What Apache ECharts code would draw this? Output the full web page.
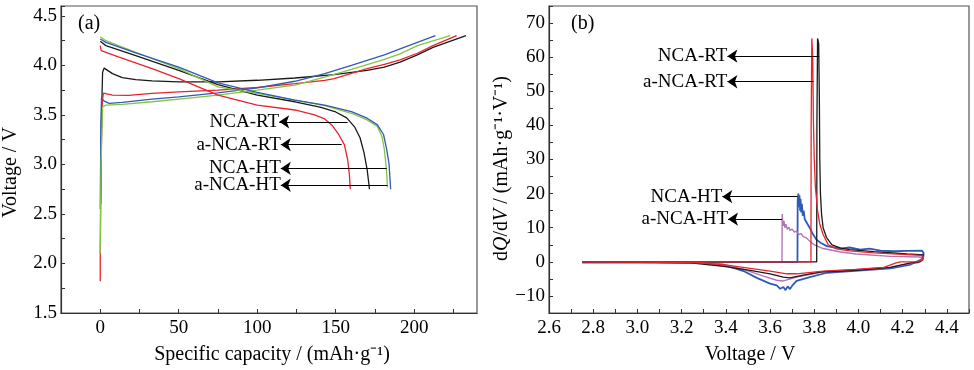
<!DOCTYPE html>
<html><head><meta charset="utf-8">
<script src="https://cdn.jsdelivr.net/npm/echarts@6/dist/echarts.min.js"></script>
<style>html,body{margin:0;padding:0;background:#fff}#c{width:974px;height:370px}</style>
</head><body><div id="c"></div>
<script>
// ---------- Panel (a): charge/discharge curves [capacity mAh/g, voltage V] ----------
const aBlackCharge = [[0.3,2.6],[0.8,3.5],[1.5,3.93],[2.5,3.973],[7.8,3.917],[14,3.877],[22.6,3.857],[33,3.843],[50,3.833],[75,3.833],[100,3.85],[124,3.873],[149,3.907],[170,3.95],[181,3.983],[191,4.033],[202,4.107],[212,4.183],[233,4.3]];
const aRedCharge = [[0,1.82],[0,2.1],[0.4,2.9],[1.2,3.62],[2,3.72],[7.8,3.70],[18,3.697],[33,3.717],[50,3.733],[75,3.75],[100,3.777],[124,3.817],[143,3.85],[149,3.867],[170,3.967],[181,4.01],[191,4.057],[202,4.123],[212,4.2],[227,4.3]];
const aBlueCharge = [[0,2.55],[0.4,3.4],[0.8,3.67],[2.5,3.64],[5.7,3.617],[14,3.627],[33,3.66],[50,3.683],[75,3.723],[100,3.773],[124,3.84],[143,3.917],[160,4.0],[170,4.05],[181,4.107],[191,4.167],[213.5,4.3]];
const aGreenCharge = [[0,2.1],[0.5,3.0],[1.5,3.58],[3.6,3.6],[14,3.607],[33,3.633],[50,3.66],[75,3.7],[100,3.75],[124,3.8],[143,3.883],[160,3.96],[181,4.06],[191,4.117],[202,4.2],[223,4.3]];
const aBlackDis = [[0,4.243],[3.6,4.2],[22.6,4.1],[50,3.95],[75,3.807],[100,3.7],[124,3.633],[140,3.58],[150,3.53],[157,3.47],[162,3.38],[165.5,3.27],[168,3.12],[170,2.95],[171,2.82],[171.5,2.75]];
const aRedDis = [[0,4.2],[0.6,4.15],[12,4.083],[33,3.967],[50,3.867],[75,3.7],[100,3.6],[124,3.55],[136.5,3.5],[143,3.46],[148,3.39],[152,3.3],[155.5,3.2],[157.6,3.05],[158.7,2.9],[159.3,2.75]];
const aBlueDis = [[0,4.267],[3.6,4.233],[22.6,4.127],[50,3.983],[75,3.823],[100,3.727],[124,3.65],[143,3.6],[160,3.533],[170,3.467],[176.6,3.4],[180.5,3.3],[182.5,3.15],[184,3.0],[185,2.75]];
const aGreenDis = [[0,4.29],[3.6,4.25],[22.6,4.133],[50,3.967],[75,3.783],[100,3.717],[124,3.65],[143,3.593],[160,3.517],[170,3.45],[176.6,3.383],[179.5,3.28],[181,3.15],[182.3,2.95],[183,2.767]];
const aLabels = ['NCA-RT','a-NCA-RT','NCA-HT','a-NCA-HT'];
const aArrowY = [3.43,3.2,2.96,2.79];
const aArrowFrom = [157.6,153.8,182.5,183];
const aArrowTip = [114,115,115,115];

// ---------- Panel (b): dQ/dV curves [voltage V, dQ/dV] ----------
const bBlack = [[2.75,0],[3.811,0],[3.812,40],[3.815,65.5],[3.82,64],[3.823,48],[3.825,30],[3.828,20],[3.833,14],[3.84,10],[3.855,7.2],[3.88,5],[3.92,4],[3.96,3.6],[4.07,3.0],[4.22,2.3],[4.28,2.1],[4.295,2],[4.29,0.5],[4.27,-0.2],[4.236,-0.3],[4.145,-1.6],[3.99,-2.5],[3.84,-2.9],[3.75,-3.9],[3.69,-4.7],[3.66,-4.5],[3.6,-3.5],[3.51,-2.5],[3.39,-1.3],[3.24,-0.3],[3.0,-0.1],[2.75,0]];
const bRed = [[2.75,0],[3.785,0],[3.786,40],[3.789,65.5],[3.793,60],[3.796,42],[3.8,30],[3.805,22],[3.815,15],[3.825,11],[3.84,8],[3.863,5],[3.9,3.8],[3.96,3.2],[4.07,2.6],[4.22,2.1],[4.28,1.9],[4.295,1.6],[4.29,0.5],[4.266,0],[4.19,0],[4.17,-0.3],[4.115,-1.6],[3.99,-2.2],[3.84,-2.7],[3.72,-3.5],[3.676,-3.5],[3.6,-2.7],[3.51,-1.9],[3.39,-0.8],[3.25,-0.2],[2.75,0]];
const bBlue = [[2.75,-0.2],[3.724,0],[3.725,18],[3.728,20],[3.731,16],[3.733,19.5],[3.736,15],[3.738,18.5],[3.741,14.5],[3.744,17],[3.748,13.5],[3.752,15],[3.757,12.5],[3.763,13],[3.77,11],[3.78,9.9],[3.795,8],[3.81,6.5],[3.83,5.5],[3.857,4.6],[3.917,3.9],[3.96,4.2],[4.008,3.6],[4.05,3.9],[4.1,3.3],[4.159,3.1],[4.22,3.2],[4.287,3.3],[4.295,2.5],[4.29,1.2],[4.28,0.5],[4.25,-0.3],[4.236,-0.8],[4.145,-1.9],[4.0,-2.6],[3.857,-3.2],[3.78,-4.5],[3.72,-5.6],[3.70,-7.0],[3.69,-8.0],[3.68,-7.2],[3.67,-8.3],[3.66,-7.4],[3.646,-7.9],[3.63,-6.9],[3.60,-6.4],[3.54,-4.7],[3.48,-2.7],[3.389,-0.8],[3.3,-0.4],[3.0,-0.2],[2.75,-0.2]];
const bPurple = [[2.75,0],[3.654,0],[3.655,14],[3.657,12],[3.66,10.5],[3.663,12],[3.667,10],[3.672,11],[3.678,9.5],[3.685,10.2],[3.69,9.2],[3.7,9.6],[3.71,8.7],[3.72,9],[3.73,8],[3.74,8.3],[3.75,7.4],[3.765,7],[3.78,6],[3.8,5],[3.84,3.9],[3.92,2.9],[3.99,2.3],[4.145,1.6],[4.28,1.4],[4.29,1.2],[4.28,0],[4.25,-0.3],[4.145,-1.6],[3.99,-2.2],[3.84,-2.9],[3.72,-4.5],[3.66,-5.6],[3.63,-5.4],[3.57,-4.2],[3.48,-2.2],[3.39,-0.8],[3.25,-0.2],[2.75,0]];
const bLabels = ['NCA-RT','a-NCA-RT','NCA-HT','a-NCA-HT'];
const bArrowY = [60.3,52.8,19.1,12.5];
const bArrowFrom = [3.822,3.797,3.724,3.654];
const bArrowTip = [3.407,3.407,3.384,3.41];

const FONT = "'Liberation Serif','Times New Roman',serif";
const C = {black:'#1a1a1a', red:'#e8232b', blue:'#2f5bb7', green:'#86c440', purple:'#b474b4'};

function line(data, color, xi, w){
  return {type:'line', data, xAxisIndex:xi, yAxisIndex:xi, showSymbol:false, symbol:'none',
    lineStyle:{color, width:w||1.3}, itemStyle:{color}, animation:false, z:3};
}
function arrows(from, tip, ys, xi){
  return {type:'lines', coordinateSystem:'cartesian2d', xAxisIndex:xi, yAxisIndex:xi,
    symbol:['none','arrow'], symbolSize:10, animation:false, z:5,
    lineStyle:{color:'#000', width:1.2, opacity:1, curveness:0},
    data: ys.map((y,i)=>({coords:[[from[i],y],[tip[i],y]]}))};
}
function texts(tip, ys, labels, xi){
  return {type:'scatter', xAxisIndex:xi, yAxisIndex:xi, symbol:'circle', symbolSize:0, itemStyle:{color:'#000'}, animation:false, z:6,
    label:{show:true, position:'left', distance:0, color:'#000', opacity:1, fontSize:19, fontFamily:FONT, formatter:p=>p.data[2]},
    emphasis:{disabled:true}, silent:true,
    data: ys.map((y,i)=>[tip[i], y, labels[i]])};
}
const axisCommon = {
  axisLine:{show:true, onZero:false, lineStyle:{color:'#333', width:1.2}},
  axisTick:{show:true, inside:true, length:4, lineStyle:{color:'#333'}},
  splitLine:{show:false},
};
const labelStyle = {fontSize:19, fontFamily:FONT, color:'#000'};
const nameStyle = {fontSize:20, fontFamily:FONT, color:'#000'};

const option = {
  animation:false,
  backgroundColor:'#fff',
  title:[
    {text:'(a)', left:78, top:14, padding:0, textStyle:{fontSize:20, fontFamily:FONT, fontWeight:'normal', color:'#000'}},
    {text:'(b)', left:571, top:14, padding:0, textStyle:{fontSize:20, fontFamily:FONT, fontWeight:'normal', color:'#000'}}
  ],
  grid:[
    {left:59, top:6, width:418, height:310, show:true, borderColor:'#555', borderWidth:1.2, containLabel:false},
    {left:549, top:6, width:420, height:310, show:true, borderColor:'#555', borderWidth:1.2, containLabel:false}
  ],
  xAxis:[
    Object.assign({}, axisCommon, {type:'value', gridIndex:0, min:-25, max:240, interval:25,
      name:'Specific capacity / (mAh·g⁻¹)', nameLocation:'middle', nameGap:32,
      nameTextStyle:Object.assign({padding:[0,0,0,6]}, nameStyle),
      axisLabel:Object.assign({margin:6, showMaxLabel:false, formatter:v=> (v>=0 && v%50===0)? String(v):''}, labelStyle)}),
    Object.assign({}, axisCommon, {type:'value', gridIndex:1, min:2.6, max:4.5, interval:0.1,
      name:'Voltage / V', nameLocation:'middle', nameGap:32,
      nameTextStyle:Object.assign({padding:[0,18,0,0]}, nameStyle),
      axisLabel:Object.assign({margin:6, formatter:v=>{const k=Math.round(v*10); return (k%2===0 && k<=44)? (k/10).toFixed(1):'';}}, labelStyle)})
  ],
  yAxis:[
    Object.assign({}, axisCommon, {type:'value', gridIndex:0, min:1.5, max:4.6, interval:0.25,
      name:'Voltage / V', nameLocation:'middle', nameGap:40,
      nameTextStyle:Object.assign({padding:[0,26,0,0]}, nameStyle),
      axisLabel:Object.assign({margin:4, formatter:v=>{const k=Math.round(v*100); return (k%50===0 && k<=450)? (k/100).toFixed(1):'';}}, labelStyle)}),
    Object.assign({}, axisCommon, {type:'value', gridIndex:1, min:-15, max:75, interval:5,
      name:'{n|d}{i|Q}{n|/d}{i|V}{n| / (mAh·g⁻¹·V⁻¹)}', nameLocation:'middle', nameGap:34,
      nameTextStyle:{fontSize:20, fontFamily:FONT, color:'#000', padding:[0,18,0,0],
        rich:{n:{fontSize:20, fontFamily:FONT, color:'#000'}, i:{fontSize:20, fontFamily:FONT, fontStyle:'italic', color:'#000'}}},
      axisLabel:Object.assign({margin:4, formatter:v=> (v%10===0 && v<=70)? (v<0? '\u2212'+Math.abs(v): String(v)) :''}, labelStyle)})
  ],
  series:[
    line(aBlackCharge, C.black, 0), line(aRedCharge, C.red, 0), line(aBlueCharge, C.blue, 0), line(aGreenCharge, C.green, 0),
    line(aBlackDis, C.black, 0), line(aRedDis, C.red, 0), line(aGreenDis, C.green, 0), line(aBlueDis, C.blue, 0),
    arrows(aArrowFrom, aArrowTip, aArrowY, 0), texts(aArrowTip, aArrowY, aLabels, 0),
    line(bBlue, C.blue, 1, 1.8), line(bPurple, C.purple, 1, 1.4), line(bBlack, C.black, 1, 1.3), line(bRed, C.red, 1, 1.3),
    arrows(bArrowFrom, bArrowTip, bArrowY, 1), texts(bArrowTip, bArrowY, bLabels, 1)
  ]
};
const chart = echarts.init(document.getElementById('c'), null, {renderer:'canvas'});
chart.setOption(option);
</script></body></html>
